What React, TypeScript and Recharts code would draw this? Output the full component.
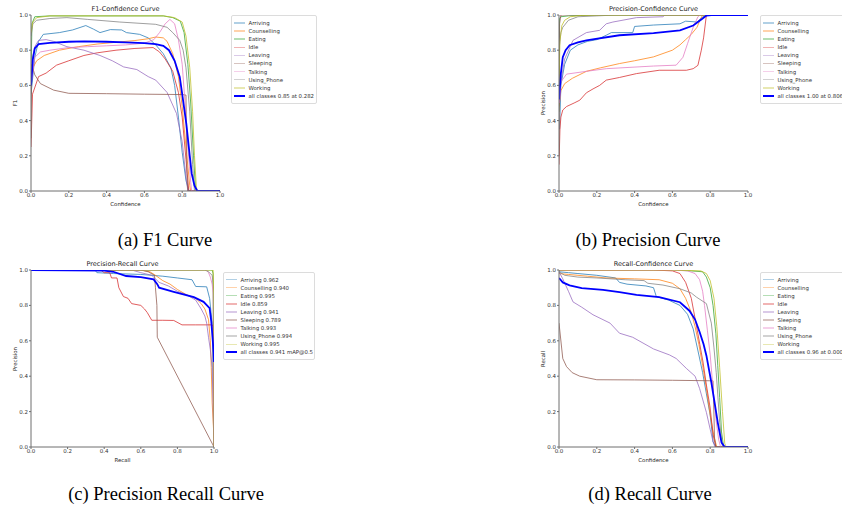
import React from "react";
import { Line, LineChart, XAxis, YAxis } from "recharts";

const classNames = ["Arriving", "Counselling", "Eating", "Idle", "Leaving", "Sleeping", "Talking", "Using_Phone", "Working"];
const classColors = ["#1f77b4", "#ff7f0e", "#2ca02c", "#d62728", "#9467bd", "#8c564b", "#e377c2", "#7f7f7f", "#bcbd22"];
const axisTicks = [0, 0.2, 0.4, 0.6, 0.8, 1];
const prAp = ["0.962", "0.940", "0.995", "0.859", "0.941", "0.789", "0.993", "0.994", "0.995"];

// F1 vs confidence: [confidence, f1]
const f1Arriving = [[0, 0.55], [0.02, 0.76], [0.04, 0.85], [0.065, 0.89], [0.15, 0.9], [0.22, 0.915], [0.29, 0.94], [0.33, 0.92], [0.365, 0.9], [0.42, 0.917], [0.48, 0.915], [0.505, 0.9], [0.575, 0.89], [0.62, 0.87], [0.66, 0.83], [0.7, 0.78], [0.74, 0.7], [0.76, 0.6], [0.78, 0.42], [0.8, 0.22], [0.82, 0.06], [0.835, 0], [1, 0]];
const f1Counselling = [[0, 0.62], [0.01, 0.7], [0.03, 0.74], [0.07, 0.77], [0.15, 0.8], [0.25, 0.82], [0.35, 0.835], [0.45, 0.845], [0.55, 0.855], [0.62, 0.865], [0.66, 0.875], [0.7, 0.87], [0.72, 0.85], [0.75, 0.78], [0.78, 0.65], [0.8, 0.48], [0.82, 0.25], [0.84, 0.03], [0.845, 0], [1, 0]];
const f1Eating = [[0, 0.65], [0.005, 0.95], [0.02, 0.99], [0.1, 0.995], [0.7, 0.995], [0.75, 0.985], [0.79, 0.965], [0.81, 0.9], [0.83, 0.72], [0.845, 0.5], [0.86, 0.2], [0.87, 0.02], [0.875, 0], [1, 0]];
const f1Idle = [[0, 0.25], [0.008, 0.55], [0.04, 0.65], [0.08, 0.67], [0.135, 0.715], [0.2, 0.74], [0.28, 0.77], [0.35, 0.785], [0.45, 0.8], [0.55, 0.81], [0.646, 0.815], [0.68, 0.79], [0.71, 0.75], [0.75, 0.68], [0.78, 0.56], [0.8, 0.42], [0.82, 0.18], [0.835, 0], [1, 0]];
const f1Leaving = [[0, 0.72], [0.02, 0.82], [0.04, 0.856], [0.08, 0.86], [0.12, 0.85], [0.19, 0.82], [0.28, 0.8], [0.365, 0.77], [0.43, 0.74], [0.49, 0.705], [0.56, 0.69], [0.62, 0.65], [0.66, 0.63], [0.72, 0.56], [0.77, 0.44], [0.8, 0.28], [0.82, 0.08], [0.83, 0], [1, 0]];
const f1Sleeping = [[0, 0.3], [0.004, 0.72], [0.02, 0.66], [0.05, 0.61], [0.12, 0.573], [0.2, 0.555], [0.4, 0.553], [0.6, 0.55], [0.8, 0.548], [0.82, 0.545], [0.825, 0.1], [0.83, 0], [1, 0]];
const f1Talking = [[0, 0.6], [0.02, 0.76], [0.05, 0.79], [0.1, 0.8], [0.2, 0.815], [0.3, 0.82], [0.4, 0.825], [0.5, 0.83], [0.6, 0.84], [0.65, 0.86], [0.68, 0.9], [0.71, 0.95], [0.735, 0.975], [0.76, 0.95], [0.78, 0.86], [0.8, 0.72], [0.815, 0.5], [0.83, 0.25], [0.845, 0.05], [0.85, 0], [1, 0]];
const f1UsingPhone = [[0, 0.88], [0.01, 0.95], [0.03, 0.97], [0.1, 0.98], [0.19, 0.985], [0.3, 0.975], [0.47, 0.96], [0.66, 0.947], [0.72, 0.93], [0.75, 0.9], [0.787, 0.856], [0.805, 0.8], [0.82, 0.7], [0.84, 0.45], [0.855, 0.15], [0.865, 0], [1, 0]];
const f1Working = [[0, 0.9], [0.01, 0.96], [0.03, 0.985], [0.1, 0.995], [0.7, 0.995], [0.76, 0.985], [0.8, 0.96], [0.82, 0.88], [0.84, 0.7], [0.855, 0.45], [0.865, 0.2], [0.875, 0.02], [0.88, 0], [1, 0]];
const f1All = [[0, 0.6], [0.01, 0.75], [0.02, 0.81], [0.04, 0.835], [0.1, 0.842], [0.2, 0.848], [0.282, 0.85], [0.4, 0.848], [0.5, 0.845], [0.6, 0.84], [0.66, 0.835], [0.7, 0.825], [0.73, 0.8], [0.76, 0.74], [0.787, 0.648], [0.8, 0.55], [0.822, 0.38], [0.84, 0.2], [0.85, 0.1], [0.865, 0.03], [0.88, 0], [1, 0]];

// precision vs confidence
const pArriving = [[0.003, 0.35], [0.01, 0.6], [0.03, 0.72], [0.06, 0.8], [0.1, 0.83], [0.15, 0.85], [0.2, 0.86], [0.25, 0.885], [0.277, 0.9], [0.39, 0.9], [0.4, 0.935], [0.5, 0.943], [0.64, 0.95], [0.67, 0.965], [0.73, 0.96], [0.755, 0.985], [0.78, 1], [1, 1]];
const pCounselling = [[0, 0.48], [0.01, 0.57], [0.03, 0.61], [0.07, 0.64], [0.145, 0.68], [0.22, 0.7], [0.32, 0.724], [0.4, 0.74], [0.5, 0.762], [0.6, 0.8], [0.64, 0.83], [0.67, 0.86], [0.7, 0.89], [0.73, 0.93], [0.75, 0.98], [0.76, 1], [1, 1]];
const pEating = [[0, 0.45], [0.003, 0.98], [0.01, 0.99], [0.05, 0.995], [0.2, 1], [1, 1]];
const pIdle = [[0, 0.15], [0.005, 0.35], [0.01, 0.42], [0.02, 0.46], [0.04, 0.48], [0.08, 0.5], [0.11, 0.516], [0.145, 0.558], [0.18, 0.58], [0.215, 0.6], [0.25, 0.63], [0.32, 0.645], [0.41, 0.667], [0.53, 0.686], [0.674, 0.686], [0.71, 0.695], [0.735, 0.714], [0.753, 0.8], [0.765, 0.87], [0.78, 1], [1, 1]];
const pLeaving = [[0.003, 0.5], [0.01, 0.62], [0.03, 0.75], [0.074, 0.856], [0.145, 0.9], [0.215, 0.913], [0.25, 0.95], [0.285, 0.96], [0.41, 0.985], [0.55, 0.99], [0.56, 1], [1, 1]];
const pSleeping = [[0, 0.2], [0.003, 0.95], [0.01, 1], [1, 1]];
const pTalking = [[0.002, 0.5], [0.01, 0.62], [0.04, 0.664], [0.145, 0.68], [0.25, 0.695], [0.5, 0.71], [0.62, 0.715], [0.656, 0.76], [0.68, 0.837], [0.71, 0.93], [0.735, 0.99], [0.745, 1], [1, 1]];
const pUsingPhone = [[0, 0.8], [0.01, 0.9], [0.02, 0.93], [0.05, 0.97], [0.1, 0.99], [0.2, 0.995], [0.3, 1], [1, 1]];
const pWorking = [[0, 0.6], [0.005, 0.85], [0.015, 0.94], [0.03, 0.97], [0.06, 0.99], [0.12, 0.998], [0.2, 1], [1, 1]];
const pAll = [[0, 0.52], [0.01, 0.67], [0.02, 0.76], [0.035, 0.8], [0.056, 0.828], [0.1, 0.845], [0.145, 0.856], [0.32, 0.885], [0.5, 0.897], [0.64, 0.913], [0.71, 0.94], [0.76, 0.98], [0.78, 0.997], [0.806, 1], [1, 1]];

// precision vs recall
const prArriving = [[0, 1], [0.35, 1], [0.36, 0.985], [0.45, 0.98], [0.6, 0.975], [0.72, 0.965], [0.8, 0.955], [0.88, 0.945], [0.9, 0.907], [0.96, 0.905], [0.976, 0.84], [0.99, 0.7], [1, 0.1]];
const prCounselling = [[0, 1], [0.6, 1], [0.65, 0.99], [0.68, 0.97], [0.72, 0.94], [0.76, 0.92], [0.8, 0.89], [0.85, 0.86], [0.9, 0.84], [0.93, 0.81], [0.95, 0.78], [0.97, 0.72], [0.98, 0.6], [0.985, 0.45], [0.99, 0.25], [1, 0.05]];
const prEating = [[0, 1], [0.99, 1], [0.995, 0.98], [1, 0]];
const prIdle = [[0, 1], [0.38, 1], [0.4, 0.985], [0.43, 0.985], [0.44, 0.955], [0.47, 0.955], [0.48, 0.9], [0.505, 0.85], [0.53, 0.84], [0.55, 0.81], [0.6, 0.8], [0.62, 0.78], [0.635, 0.76], [0.66, 0.716], [0.72, 0.716], [0.78, 0.715], [0.825, 0.69], [0.9, 0.69], [0.99, 0.69], [0.995, 0.68], [1, 0]];
const prLeaving = [[0, 1], [0.55, 1], [0.6, 0.985], [0.66, 0.97], [0.7, 0.93], [0.75, 0.91], [0.8, 0.88], [0.85, 0.86], [0.9, 0.83], [0.93, 0.78], [0.95, 0.74], [0.96, 0.7], [0.97, 0.62], [0.98, 0.55], [0.99, 0.45], [1, 0]];
const prSleeping = [[0, 1], [0.6, 1], [0.64, 0.99], [0.675, 0.97], [0.68, 0.9], [0.688, 0.8], [0.69, 0.62], [1, 0]];
const prTalking = [[0, 1], [0.96, 1], [0.97, 0.985], [0.98, 0.96], [0.99, 0.92], [0.995, 0.87], [1, 0]];
const prUsingPhone = [[0, 1], [0.95, 1], [0.97, 0.99], [0.99, 0.97], [1, 0.88], [1, 0]];
const prWorking = [[0, 1], [0.995, 1], [1, 0.85], [1, 0]];
const prAll = [[0, 1], [0.4, 0.996], [0.45, 0.99], [0.52, 0.966], [0.6, 0.96], [0.67, 0.947], [0.69, 0.92], [0.7, 0.9], [0.78, 0.877], [0.89, 0.847], [0.943, 0.82], [0.976, 0.785], [0.985, 0.71], [0.992, 0.62], [0.998, 0.535], [1, 0.48]];

// recall vs confidence
const rArriving = [[0, 0.99], [0.05, 0.985], [0.1, 0.98], [0.2, 0.97], [0.3, 0.955], [0.32, 0.93], [0.36, 0.92], [0.46, 0.91], [0.5, 0.9], [0.515, 0.85], [0.58, 0.83], [0.64, 0.8], [0.68, 0.75], [0.71, 0.667], [0.74, 0.52], [0.76, 0.42], [0.78, 0.3], [0.8, 0.18], [0.815, 0.03], [0.83, 0], [1, 0]];
const rCounselling = [[0, 0.98], [0.05, 0.975], [0.15, 0.965], [0.25, 0.955], [0.4, 0.95], [0.53, 0.945], [0.6, 0.925], [0.64, 0.894], [0.67, 0.84], [0.7, 0.76], [0.72, 0.68], [0.74, 0.58], [0.76, 0.46], [0.78, 0.33], [0.8, 0.18], [0.82, 0.06], [0.835, 0], [1, 0]];
const rEating = [[0, 1], [0.6, 1], [0.7, 0.995], [0.76, 0.99], [0.78, 0.96], [0.8, 0.9], [0.815, 0.8], [0.83, 0.64], [0.84, 0.46], [0.85, 0.28], [0.86, 0.085], [0.87, 0.01], [0.875, 0], [1, 0]];
const rIdle = [[0, 1], [0.5, 1], [0.6, 0.995], [0.64, 0.98], [0.67, 0.93], [0.7, 0.84], [0.727, 0.686], [0.745, 0.58], [0.762, 0.48], [0.78, 0.35], [0.8, 0.22], [0.815, 0.07], [0.83, 0], [1, 0]];
const rLeaving = [[0, 0.99], [0.02, 0.95], [0.05, 0.88], [0.074, 0.82], [0.12, 0.79], [0.18, 0.747], [0.27, 0.7], [0.32, 0.643], [0.39, 0.62], [0.5, 0.554], [0.585, 0.52], [0.62, 0.5], [0.674, 0.444], [0.72, 0.4], [0.744, 0.33], [0.78, 0.195], [0.8, 0.1], [0.815, 0.03], [0.825, 0], [1, 0]];
const rSleeping = [[0, 0.7], [0.02, 0.5], [0.04, 0.454], [0.07, 0.42], [0.11, 0.4], [0.2, 0.38], [0.4, 0.379], [0.6, 0.377], [0.815, 0.374], [0.823, 0.05], [0.83, 0], [1, 0]];
const rTalking = [[0, 1], [0.6, 1], [0.68, 0.995], [0.72, 0.98], [0.744, 0.945], [0.76, 0.88], [0.77, 0.8], [0.785, 0.66], [0.8, 0.52], [0.815, 0.33], [0.83, 0.16], [0.845, 0.04], [0.855, 0], [1, 0]];
const rUsingPhone = [[0, 0.99], [0.03, 0.97], [0.1, 0.96], [0.2, 0.955], [0.35, 0.945], [0.45, 0.94], [0.47, 0.925], [0.55, 0.915], [0.64, 0.894], [0.7, 0.87], [0.727, 0.847], [0.78, 0.81], [0.806, 0.7], [0.82, 0.56], [0.832, 0.42], [0.85, 0.14], [0.865, 0], [1, 0]];
const rWorking = [[0, 1], [0.6, 1], [0.75, 0.995], [0.78, 0.98], [0.8, 0.94], [0.82, 0.84], [0.835, 0.68], [0.85, 0.45], [0.865, 0.2], [0.877, 0.02], [0.885, 0], [1, 0]];
const rAll = [[0, 0.955], [0.02, 0.93], [0.056, 0.913], [0.12, 0.897], [0.233, 0.888], [0.32, 0.875], [0.41, 0.86], [0.53, 0.847], [0.64, 0.818], [0.69, 0.77], [0.72, 0.72], [0.744, 0.65], [0.765, 0.58], [0.78, 0.516], [0.806, 0.365], [0.825, 0.24], [0.84, 0.138], [0.86, 0.025], [0.877, 0], [1, 0]];

const f1Curves = [f1Arriving, f1Counselling, f1Eating, f1Idle, f1Leaving, f1Sleeping, f1Talking, f1UsingPhone, f1Working];
const pCurves = [pArriving, pCounselling, pEating, pIdle, pLeaving, pSleeping, pTalking, pUsingPhone, pWorking];
const prCurves = [prArriving, prCounselling, prEating, prIdle, prLeaving, prSleeping, prTalking, prUsingPhone, prWorking];
const rCurves = [rArriving, rCounselling, rEating, rIdle, rLeaving, rSleeping, rTalking, rUsingPhone, rWorking];

const SANS = "'DejaVu Sans', sans-serif";
const SPINE = "#6e6e6e";
const RIGHT_PAD = 8;

const toPoints = (arr: number[][]) => arr.map(([x, y]) => ({ x, y }));

type PanelProps = {
  plot: { x: number; y: number; w: number; h: number };
  title: string;
  xLabel: string;
  yLabel: string;
  curves: number[][][];
  all: number[][];
  labels: string[];
  allLabel: string;
  legend: { x: number; y: number; w: number };
};

function Panel({ plot, title, xLabel, yLabel, curves, all, labels, allLabel, legend }: PanelProps) {
  const tick = { fontSize: 5.5, fill: "#333", fontFamily: SANS };
  const rows = [...labels.map((l, i) => ({ l, c: classColors[i], all: false })), { l: allLabel, c: "#0000ff", all: true }];
  return (
    <>
      <div style={{ position: "absolute", left: plot.x - 31, top: plot.y - 15 }}>
        <LineChart width={plot.w + 31 + RIGHT_PAD} height={plot.h + 35} margin={{ top: 15, right: RIGHT_PAD, bottom: 0, left: 0 }}>
          <XAxis
            type="number"
            dataKey="x"
            domain={[0, 1]}
            ticks={axisTicks}
            interval={0}
            allowDataOverflow
            height={20}
            tick={tick}
            tickSize={2}
            tickMargin={0}
            stroke={SPINE}
            tickFormatter={(v: number) => v.toFixed(1)}
          />
          <XAxis xAxisId="top" orientation="top" type="number" domain={[0, 1]} height={0} tick={false} tickLine={false} stroke={SPINE} />
          <YAxis
            type="number"
            domain={[0, 1]}
            ticks={axisTicks}
            interval={0}
            allowDataOverflow
            width={31}
            tick={tick}
            tickSize={2}
            tickMargin={1}
            stroke={SPINE}
            tickFormatter={(v: number) => v.toFixed(1)}
          />
          <YAxis yAxisId="right" orientation="right" type="number" domain={[0, 1]} width={0} tick={false} tickLine={false} stroke={SPINE} />
          {curves.map((c, i) => (
            <Line
              key={classNames[i]}
              data={toPoints(c)}
              dataKey="y"
              type="linear"
              stroke={classColors[i]}
              strokeWidth={0.75}
              dot={false}
              activeDot={false}
              isAnimationActive={false}
            />
          ))}
          <Line data={toPoints(all)} dataKey="y" type="linear" stroke="#0000ff" strokeWidth={1.8} dot={false} activeDot={false} isAnimationActive={false} />
        </LineChart>
      </div>
      <div style={{ position: "absolute", left: plot.x, top: plot.y - 11, width: plot.w, height: 10, lineHeight: "10px", textAlign: "center", fontFamily: SANS, fontSize: 6.5, color: "#222" }}>
        {title}
      </div>
      <div style={{ position: "absolute", left: plot.x, top: plot.y + plot.h + 8, width: plot.w, height: 10, lineHeight: "10px", textAlign: "center", fontFamily: SANS, fontSize: 5.4, color: "#222" }}>
        {xLabel}
      </div>
      <div
        style={{
          position: "absolute",
          left: plot.x - 16.5 - 40,
          top: plot.y + plot.h / 2 - 5,
          width: 80,
          height: 10,
          lineHeight: "10px",
          textAlign: "center",
          fontFamily: SANS,
          fontSize: 5.4,
          color: "#222",
          transform: "rotate(-90deg)",
        }}
      >
        {yLabel}
      </div>
      <div
        style={{
          position: "absolute",
          left: legend.x,
          top: legend.y,
          width: legend.w,
          padding: "3px 0",
          border: "1px solid #dcdcdc",
          borderRadius: 2,
          background: "#fff",
          boxSizing: "border-box",
        }}
      >
        {rows.map((r) => (
          <div key={r.l} style={{ position: "relative", height: 8.1, lineHeight: "8.1px", fontFamily: SANS, fontSize: 5.4, color: "#333", whiteSpace: "nowrap" }}>
            <div
              style={{
                position: "absolute",
                left: 1.5,
                top: r.all ? 3 : 3.3,
                width: 11.5,
                height: r.all ? 2 : 1.5,
                background: r.c,
                opacity: r.all ? 1 : 0.35,
              }}
            />
            <span style={{ position: "absolute", left: 16.5 }}>{r.l}</span>
          </div>
        ))}
      </div>
    </>
  );
}

function Caption({ cx, cy, text }: { cx: number; cy: number; text: string }) {
  return (
    <div
      style={{
        position: "absolute",
        left: cx - 150,
        top: cy - 11,
        width: 300,
        height: 22,
        lineHeight: "22px",
        textAlign: "center",
        fontFamily: "'Liberation Serif', 'Times New Roman', serif",
        fontSize: 18.5,
        color: "#000",
      }}
    >
      {text}
    </div>
  );
}

export default function App() {
  return (
    <div style={{ position: "fixed", left: 0, top: 0, width: 842, height: 512, background: "#fff", overflow: "hidden" }}>
      <Panel
        plot={{ x: 31, y: 15, w: 189, h: 176 }}
        title="F1-Confidence Curve"
        xLabel="Confidence"
        yLabel="F1"
        curves={f1Curves}
        all={f1All}
        labels={classNames}
        allLabel="all classes 0.85 at 0.282"
        legend={{ x: 231, y: 15, w: 86 }}
      />
      <Panel
        plot={{ x: 559, y: 15, w: 189, h: 176 }}
        title="Precision-Confidence Curve"
        xLabel="Confidence"
        yLabel="Precision"
        curves={pCurves}
        all={pAll}
        labels={classNames}
        allLabel="all classes 1.00 at 0.806"
        legend={{ x: 760, y: 15, w: 86 }}
      />
      <Panel
        plot={{ x: 31, y: 270, w: 183, h: 177 }}
        title="Precision-Recall Curve"
        xLabel="Recall"
        yLabel="Precision"
        curves={prCurves}
        all={prAll}
        labels={classNames.map((n, i) => `${n} ${prAp[i]}`)}
        allLabel="all classes 0.941 mAP@0.5"
        legend={{ x: 223, y: 271.5, w: 92 }}
      />
      <Panel
        plot={{ x: 559, y: 270, w: 189, h: 177 }}
        title="Recall-Confidence Curve"
        xLabel="Confidence"
        yLabel="Recall"
        curves={rCurves}
        all={rAll}
        labels={classNames}
        allLabel="all classes 0.96 at 0.000"
        legend={{ x: 760, y: 271.5, w: 86 }}
      />
      <Caption cx={165} cy={240} text="(a) F1 Curve" />
      <Caption cx={648} cy={240} text="(b) Precision Curve" />
      <Caption cx={166} cy={494} text="(c) Precision Recall Curve" />
      <Caption cx={650} cy={494} text="(d) Recall Curve" />
    </div>
  );
}
